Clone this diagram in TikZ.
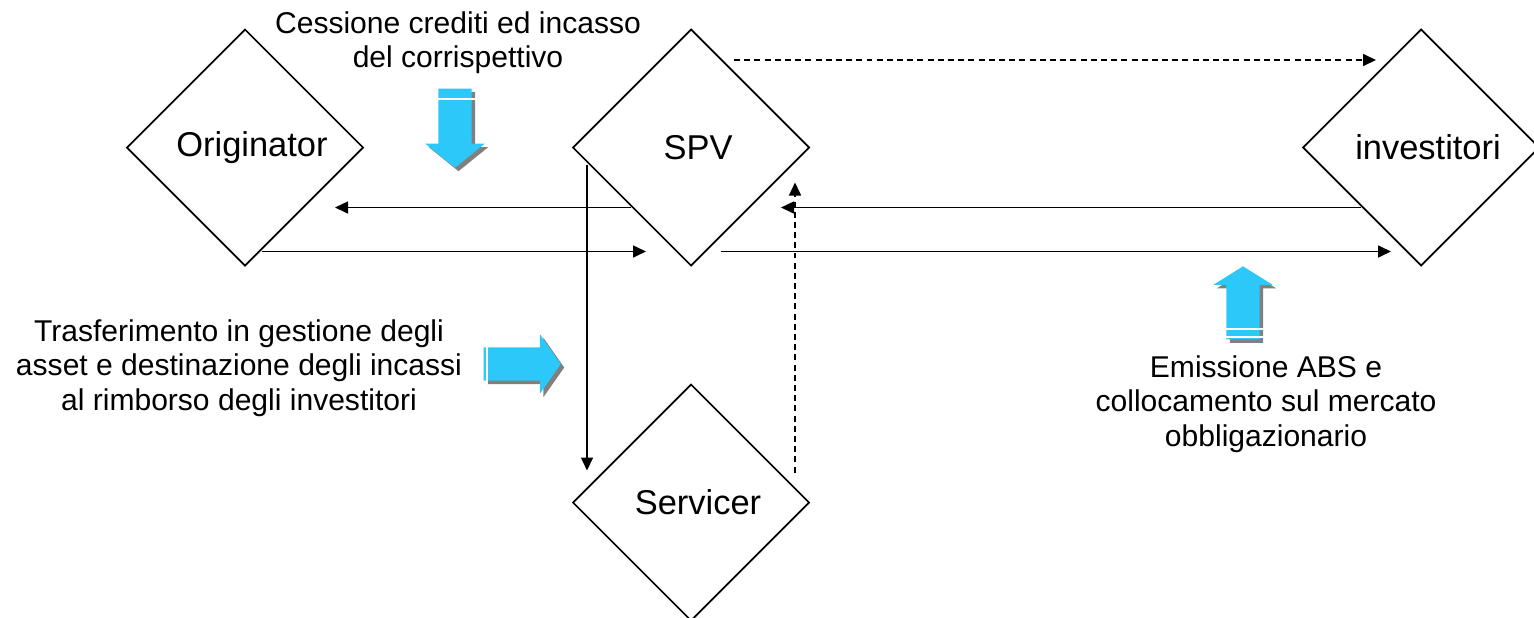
\documentclass[tikz,border=0pt]{standalone}
\usepackage{fontspec}
\setmainfont{Liberation Sans}
\usetikzlibrary{shapes,arrows.meta,positioning,shadows}

\definecolor{skyblue}{RGB}{45,200,250}

\begin{document}
\begin{tikzpicture}[node distance=2.1cm, >={Triangle[length=3.7pt,width=3.4pt]},
    party/.style={diamond, draw, line width=0.5pt, aspect=1, minimum width=2.36cm, minimum height=2.36cm,
        inner sep=0pt, outer sep=0pt, font=\fontsize{9.8}{11}\selectfont, execute at begin node={\hspace*{1.4mm}}},
    note/.style={align=center, inner sep=0pt, font=\fontsize{8.55}{9.8}\selectfont},
    flow/.style={->, line width=0.5pt},
    dflow/.style={flow, dash pattern=on 1.7pt off 1.2pt},
    bigarrow/.style={single arrow, fill=skyblue, draw=none, inner sep=0.16cm, anchor=tail,
        single arrow head extend=0.13cm, drop shadow={shadow xshift=0.35mm, shadow yshift=-0.35mm, fill=gray, opacity=1}},
    gap/.style={white, line width=0.35pt}]
        \useasboundingbox (0,0) rectangle (15.34,-6.17);

        \node[party] (orig) at (2.45,-1.475) {Originator};
        \node[party, right=2.1cm of orig] (spv) {SPV};
        \node[party, right=4.94cm of spv] (inv) {investitori};
        \node[party, below=1.19cm of spv] (serv) {Servicer};

        \node[note] (cession) at (4.58,-0.43) {Cessione crediti ed incasso\\del corrispettivo};
        \node[note] (transfer) at (2.39,-3.68) {Trasferimento in gestione degli\\asset e destinazione degli incassi\\al rimborso degli investitori};
        \node[note] (issue) at (12.66,-4.04) {Emissione ABS e\\collocamento sul mercato\\obbligazionario};

        % blue block arrows
        \node[bigarrow, minimum height=0.79cm, single arrow tip angle=102, shape border rotate=270] (pushdown) at (4.55,-0.88) {};
        \node[bigarrow, minimum height=0.77cm, single arrow tip angle=110] (pushright) at (4.83,-3.64) {};
        \node[bigarrow, minimum height=0.73cm, single arrow tip angle=116, shape border rotate=90] (pushup) at (12.43,-3.40) {};
        \draw[gap] ([shift={(-0.17,-0.11)}]pushdown.tail) -- ([shift={(0.2,-0.11)}]pushdown.tail);
        \draw[gap] ([shift={(0.04,0.17)}]pushright.tail) -- ([shift={(0.04,-0.2)}]pushright.tail);
        \draw[gap] ([shift={(-0.18,0.11)}]pushup.tail) -- ([shift={(0.21,0.11)}]pushup.tail);
        \draw[gap] ([shift={(-0.18,0.03)}]pushup.tail) -- ([shift={(0.21,0.03)}]pushup.tail);

        \draw[flow] ([shift={(-0.6,-0.6)}]spv.center) -- ([shift={(0.9,-0.6)}]orig.center);
        \draw[flow] ([shift={(0.17,-1.04)}]orig.center) -- ([shift={(-0.45,-1.04)}]spv.center);
        \draw[flow] ([shift={(0.3,-1.04)}]spv.center) -- ([shift={(-0.3,-1.04)}]inv.center);
        \draw[flow] ([shift={(-0.6,-0.6)}]inv.center) -- ([shift={(0.9,-0.6)}]spv.center);
        \draw[dflow] ([shift={(0.43,0.875)}]spv.center) -- ([shift={(-0.45,0.875)}]inv.center);
        \draw[flow] ([shift={(-1.04,-0.17)}]spv.center) -- ([shift={(-1.04,0.32)}]serv.center);
        \draw[dflow] ([shift={(1.04,0.3)}]serv.center) -- ([shift={(1.04,-0.35)}]spv.center);
    \end{tikzpicture}
\end{document}
